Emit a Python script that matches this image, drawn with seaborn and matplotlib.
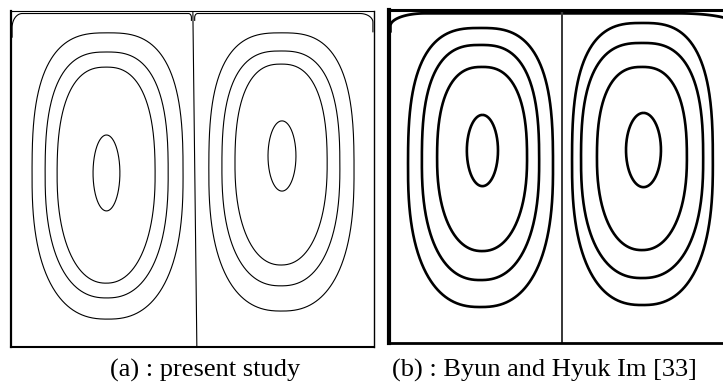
import numpy as np
import pandas as pd
import matplotlib
matplotlib.use("Agg")
import matplotlib.pyplot as plt
import seaborn as sns

sns.set_style("white")
plt.rcParams["font.family"] = ["Liberation Serif", "DejaVu Serif"]

# Closed streamlines of the two counter-rotating cells, as fractions of the
# cavity width (x) and height (y, measured from the bottom wall).
# Order: left cell outer -> inner, then right cell outer -> inner.
present_xmin = [0.058, 0.094, 0.127, 0.226, 0.545, 0.581, 0.617, 0.708]
present_xmax = [0.474, 0.433, 0.397, 0.300, 0.945, 0.906, 0.871, 0.785]
present_ymin = [0.083, 0.146, 0.190, 0.405, 0.107, 0.182, 0.244, 0.464]
present_ymax = [0.935, 0.878, 0.833, 0.631, 0.935, 0.881, 0.842, 0.673]

byun_xmin = [0.055, 0.095, 0.139, 0.225, 0.529, 0.555, 0.601, 0.685]
byun_xmax = [0.474, 0.434, 0.399, 0.315, 0.936, 0.908, 0.861, 0.786]
byun_ymin = [0.108, 0.189, 0.276, 0.471, 0.114, 0.195, 0.279, 0.468]
byun_ymax = [0.946, 0.895, 0.829, 0.685, 0.961, 0.901, 0.829, 0.691]

# Dividing streamline between the cells (x at the lid, x at the bottom wall)
present_divider = [0.501, 0.512]
byun_divider = [0.500, 0.500]

# Streamlines hugging the lid: [x start, x end, y level] for each cell
present_lid_left = [0.003, 0.497, 0.9925]
present_lid_right = [0.506, 0.997, 0.9925]
byun_lid_left = [0.004, 0.497, 0.990]
byun_lid_right = [0.503, 0.996, 0.990]

# corner radii of the lid streamlines (rx, ry) at each end
present_lid_corners = [(0.028, 0.042), (0.008, 0.012), (0.008, 0.012), (0.036, 0.026)]
byun_lid_corners = [(0.100, 0.038), (0.0, 0.0), (0.0, 0.0), (0.160, 0.030)]
present_lid_drop = [0.03, 0.01, 0.01, 0.03]
byun_lid_drop = [0.02, 0.0, 0.0, 0.02]

# squareness of each loop (upper half, lower half), outer -> inner
shape_upper = [2.85, 2.7, 2.5, 2.0]
shape_lower = [2.45, 2.35, 2.2, 2.0]


def closed_loop(xmin, xmax, ymin, ymax, n_up, n_lo, npts=600):
    # start at the top of the loop so the seam sits on a flat stretch
    t = np.linspace(np.pi / 2, np.pi / 2 + 2 * np.pi, npts)
    c, s = np.cos(t), np.sin(t)
    n = np.where(s >= 0, n_up, n_lo)
    xc, a = (xmin + xmax) / 2, (xmax - xmin) / 2
    yc = (ymin + ymax) / 2
    b = np.where(s >= 0, ymax - yc, yc - ymin)
    x = xc + a * np.sign(c) * np.abs(c) ** (2 / n)
    y = yc + b * np.sign(s) * np.abs(s) ** (2 / n)
    return x, y


def lid_line(x0, x1, ytop, c0, c1, d0, d1):
    rx0, ry0 = c0
    rx1, ry1 = c1
    th0 = np.linspace(np.pi, np.pi / 2, 40)
    th1 = np.linspace(np.pi / 2, 0, 40)
    xs = [np.array([x0]), x0 + rx0 + rx0 * np.cos(th0), x1 - rx1 + rx1 * np.cos(th1), np.array([x1])]
    ys = [np.array([ytop - ry0 - d0]), ytop - ry0 + ry0 * np.sin(th0),
          ytop - ry1 + ry1 * np.sin(th1), np.array([ytop - ry1 - d1])]
    return np.concatenate(xs), np.concatenate(ys)


def build_frame(xmin, xmax, ymin, ymax, divider, lid_l, lid_r, corners, drops):
    rows = []
    for i in range(len(xmin)):
        k = i % 4
        x, y = closed_loop(xmin[i], xmax[i], ymin[i], ymax[i], shape_upper[k], shape_lower[k])
        rows.append(pd.DataFrame({"x": x, "y": y, "curve": f"loop{i}"}))
    rows.append(pd.DataFrame({"x": divider, "y": [1.0, 0.0], "curve": "divider"}))
    x, y = lid_line(lid_l[0], lid_l[1], lid_l[2], corners[0], corners[1], drops[0], drops[1])
    rows.append(pd.DataFrame({"x": x, "y": y, "curve": "lid_left"}))
    x, y = lid_line(lid_r[0], lid_r[1], lid_r[2], corners[2], corners[3], drops[2], drops[3])
    rows.append(pd.DataFrame({"x": x, "y": y, "curve": "lid_right"}))
    return pd.concat(rows, ignore_index=True)


present = build_frame(present_xmin, present_xmax, present_ymin, present_ymax,
                      present_divider, present_lid_left, present_lid_right,
                      present_lid_corners, present_lid_drop)
byun = build_frame(byun_xmin, byun_xmax, byun_ymin, byun_ymax,
                   byun_divider, byun_lid_left, byun_lid_right,
                   byun_lid_corners, byun_lid_drop)

fig = plt.figure(figsize=(7.23, 3.87), dpi=100)
ax_a = fig.add_axes([11 / 723, 1 - 347 / 387, 363 / 723, 336 / 387])
ax_b = fig.add_axes([389 / 723, 1 - 343 / 387, 346 / 723, 333 / 387])

line_kw = dict(x="x", y="y", units="curve", estimator=None, sort=False,
               color="black", legend=False)

# (a) present study: thin computed streamlines
sns.lineplot(data=present, linewidth=0.8, ax=ax_a, **line_kw)

# (b) reference result: heavy traced streamlines
loops = byun[byun["curve"].str.startswith("loop")]
sns.lineplot(data=loops, linewidth=1.9, ax=ax_b, **line_kw)
sns.lineplot(data=byun[byun["curve"] == "divider"], linewidth=1.1, ax=ax_b, **line_kw)
lids = byun[byun["curve"].str.startswith("lid")]
sns.lineplot(data=lids, linewidth=2.0, ax=ax_b, **line_kw)

for ax in (ax_a, ax_b):
    for ln in ax.get_lines():
        ln.set_solid_capstyle("butt")
        ln.set_solid_joinstyle("round")
    ax.set_xlim(0, 1)
    ax.set_ylim(0, 1)
    ax.set_xticks([])
    ax.set_yticks([])
    ax.set_xlabel("")
    ax.set_ylabel("")
    for sp in ax.spines.values():
        sp.set_visible(True)
        sp.set_color("black")

ax_a.spines["left"].set_linewidth(1.6)
ax_a.spines["bottom"].set_linewidth(1.5)
ax_a.spines["top"].set_linewidth(0.8)
ax_a.spines["right"].set_linewidth(1.0)
ax_b.spines["left"].set_linewidth(3.0)
ax_b.spines["bottom"].set_linewidth(2.0)
ax_b.spines["top"].set_linewidth(2.2)
ax_b.spines["right"].set_linewidth(2.0)

fig.text(205 / 723, 1 - 377 / 387, "(a) : present study", ha="center", va="baseline",
         fontsize=19, color="black")
fig.text(544 / 723, 1 - 377 / 387, "(b) : Byun and Hyuk Im [33]", ha="center", va="baseline",
         fontsize=19, color="black")

fig.savefig("out.png", dpi=100)
